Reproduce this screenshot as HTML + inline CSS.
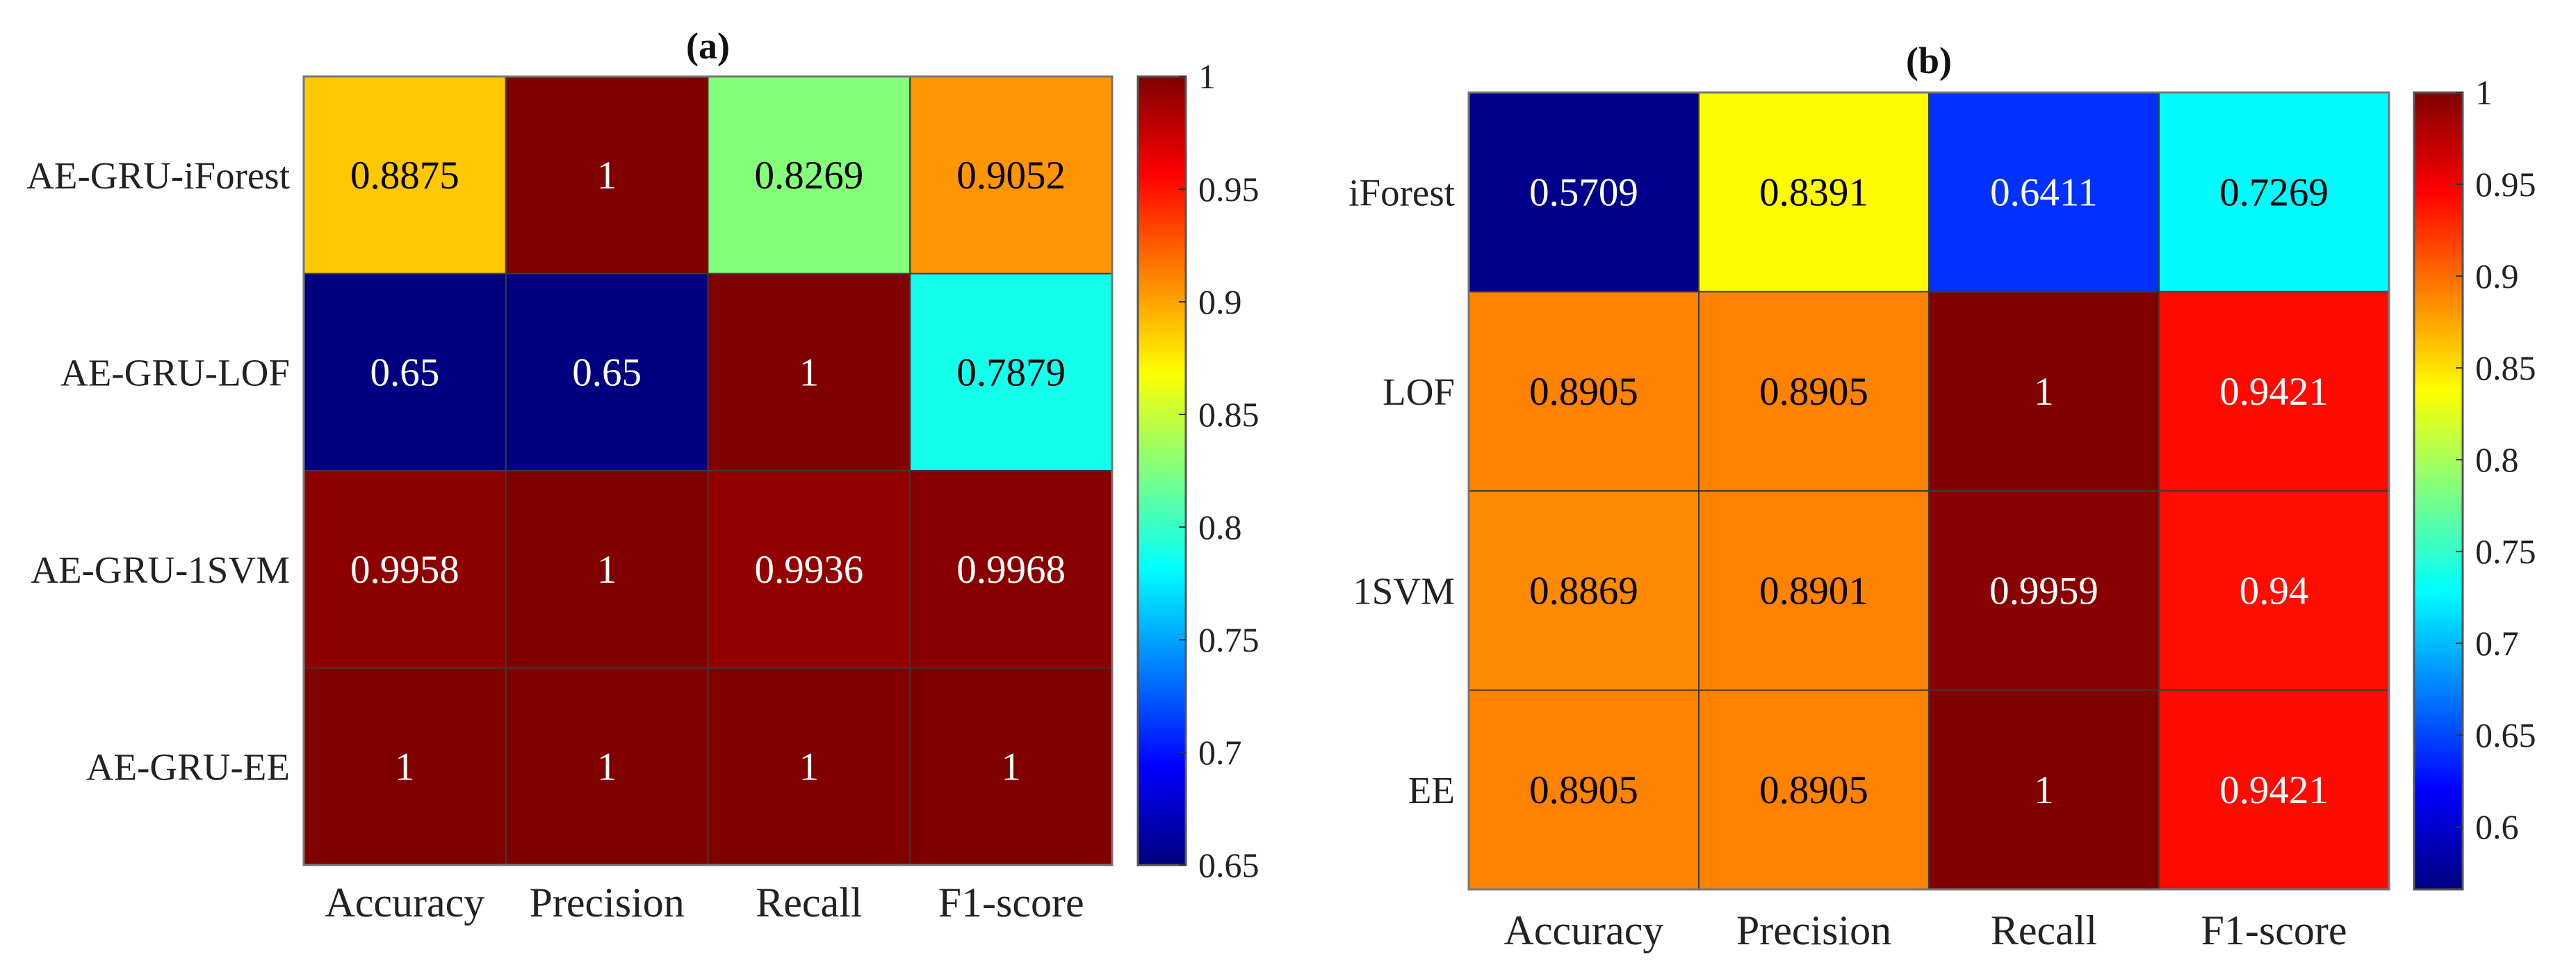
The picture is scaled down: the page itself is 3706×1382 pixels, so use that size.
<!DOCTYPE html>
<html><head><meta charset="utf-8"><style>
html,body{margin:0;padding:0;background:#fff;}
svg{display:block;}
text{font-family:"Liberation Serif","DejaVu Serif",serif;}
</style></head><body>
<svg id="fig" width="3706" height="1382" viewBox="0 0 3706 1382" xmlns="http://www.w3.org/2000/svg" font-family="Liberation Serif, serif"></svg>
<script>
const metricsA = ["Accuracy","Precision","Recall","F1-score"];
const modelsA = ["AE-GRU-iForest","AE-GRU-LOF","AE-GRU-1SVM","AE-GRU-EE"];
const valuesA = [[0.8875,1,0.8269,0.9052],[0.65,0.65,1,0.7879],[0.9958,1,0.9936,0.9968],[1,1,1,1]];
const labelsA = [["0.8875","1","0.8269","0.9052"],["0.65","0.65","1","0.7879"],["0.9958","1","0.9936","0.9968"],["1","1","1","1"]];
const ticksA = [0.65,0.7,0.75,0.8,0.85,0.9,0.95,1];
const tickLabelsA = ["0.65","0.7","0.75","0.8","0.85","0.9","0.95","1"];
const climA = [0.65,1];

const metricsB = ["Accuracy","Precision","Recall","F1-score"];
const modelsB = ["iForest","LOF","1SVM","EE"];
const valuesB = [[0.5709,0.8391,0.6411,0.7269],[0.8905,0.8905,1,0.9421],[0.8869,0.8901,0.9959,0.94],[0.8905,0.8905,1,0.9421]];
const labelsB = [["0.5709","0.8391","0.6411","0.7269"],["0.8905","0.8905","1","0.9421"],["0.8869","0.8901","0.9959","0.94"],["0.8905","0.8905","1","0.9421"]];
const ticksB = [0.6,0.65,0.7,0.75,0.8,0.85,0.9,0.95,1];
const tickLabelsB = ["0.6","0.65","0.7","0.75","0.8","0.85","0.9","0.95","1"];
const climB = [0.566,1];

const NS="http://www.w3.org/2000/svg";
const FONT="Liberation Serif, DejaVu Serif, serif";
const svg=document.getElementById('fig');
function mk(tag,attrs,parent){const e=document.createElementNS(NS,tag);for(const k in attrs)e.setAttribute(k,attrs[k]);if(tag==='text')e.setAttribute('font-family',FONT);(parent||svg).appendChild(e);return e;}
function cl(v){return Math.max(0,Math.min(1,v));}
function jet(t){t=cl(t);return [cl(1.5-Math.abs(4*t-3)),cl(1.5-Math.abs(4*t-2)),cl(1.5-Math.abs(4*t-1))];}
function rgb(c){return `rgb(${Math.round(c[0]*255)},${Math.round(c[1]*255)},${Math.round(c[2]*255)})`;}

function panel(cfg){
  const {x0,y0,x1,y1,cbx0,cbx1,clim,vals,labs,rows,cols,ticks,tlabs,title,titleY,xlabY,id}=cfg;
  const g=mk('g',{});
  
  
  const nr=rows.length,nc=cols.length,cw=(x1-x0)/nc,ch=(y1-y0)/nr;
  const norm=v=>(v-clim[0])/(clim[1]-clim[0]);
  const yScale=v=>y1-(v-clim[0])/(clim[1]-clim[0])*(y1-y0);
  const t=mk('text',{x:(x0+x1)/2,y:titleY,'text-anchor':'middle','font-size':54,'font-weight':'bold',fill:'#111'},g);
  t.textContent=title;
  
  
  for(let r=0;r<nr;r++){for(let c=0;c<nc;c++){
    const v=vals[r][c],col=jet(norm(v));
    const rc=mk('rect',{x:x0+c*cw,y:y0+r*ch,width:cw,height:ch,fill:rgb(col),stroke:'#3a3a3a','stroke-width':2},g);
    
    
    const lum=0.299*col[0]+0.587*col[1]+0.114*col[2];
    const tx=mk('text',{x:x0+(c+0.5)*cw,y:y0+(r+0.5)*ch+19,'text-anchor':'middle','font-size':57,fill:lum<0.45?'#fff':'#000'},g);
    tx.textContent=labs[r][c];
    
    
  }}
  const b=mk('rect',{x:x0,y:y0,width:x1-x0,height:y1-y0,fill:'none',stroke:'#777','stroke-width':3},g);
  
  
  rows.forEach((s,r)=>{const e=mk('text',{x:x0-20,y:y0+(r+0.5)*ch+19,'text-anchor':'end','font-size':55,fill:'#222'},g);e.textContent=s;
    
    });
  cols.forEach((s,c)=>{const e=mk('text',{x:x0+(c+0.5)*cw,y:xlabY,'text-anchor':'middle','font-size':60,fill:'#222'},g);e.textContent=s;
    
    });
  const defs=mk('defs',{},g);
  const lg=mk('linearGradient',{id:'grad'+id,x1:0,y1:1,x2:0,y2:0},defs);
  for(let i=0;i<=64;i++){const f=i/64;mk('stop',{offset:f,'stop-color':rgb(jet(f))},lg);}
  const cb=mk('rect',{x:cbx0,y:y0,width:cbx1-cbx0,height:y1-y0,fill:`url(#grad${id})`,stroke:'#555','stroke-width':3},g);
  
  
  ticks.forEach((v,i)=>{const y=yScale(v);
    const tk=mk('line',{x1:cbx1-10,x2:cbx1,y1:y,y2:y,stroke:'#333','stroke-width':2},g);
    
    
    const e=mk('text',{x:cbx1+18,y:y+17,'font-size':50,fill:'#222'},g);e.textContent=tlabs[i];
    
    });
}
panel({id:'a',x0:437,y0:110,x1:1600,y1:1244,cbx0:1637,cbx1:1706,clim:climA,vals:valuesA,labs:labelsA,rows:modelsA,cols:metricsA,ticks:ticksA,tlabs:tickLabelsA,title:'(a)',titleY:84,xlabY:1318});
panel({id:'b',x0:2113,y0:133,x1:3437,y1:1279,cbx0:3473,cbx1:3543,clim:climB,vals:valuesB,labs:labelsB,rows:modelsB,cols:metricsB,ticks:ticksB,tlabs:tickLabelsB,title:'(b)',titleY:105,xlabY:1358});
</script>
</body></html>
